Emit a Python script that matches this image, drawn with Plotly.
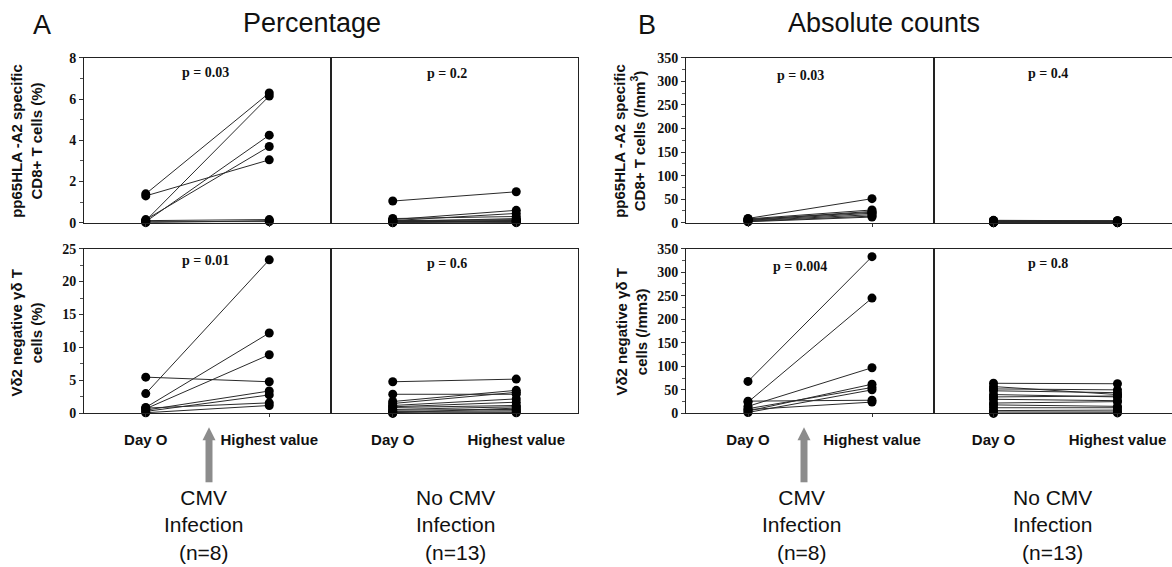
import plotly.graph_objects as go

W, H = 1172, 567

# ---------------- data ----------------
categories = ["Day O", "Highest value"]

# A: Percentage, pp65 HLA-A2 specific CD8+ T cells (%)
pct_cd8_cmv_day0 = [1.4, 1.3, 0.1, 0.05, 0.15, 0.1, 0.0, 0.05]
pct_cd8_cmv_high = [6.3, 3.05, 6.15, 4.25, 3.7, 0.15, 0.1, 0.05]
pct_cd8_nocmv_day0 = [1.05, 0.15, 0.1, 0.2, 0.05, 0.1, 0.0, 0.05, 0.1, 0.0, 0.05, 0.02, 0.08]
pct_cd8_nocmv_high = [1.5, 0.6, 0.45, 0.3, 0.2, 0.15, 0.1, 0.05, 0.0, 0.05, 0.1, 0.02, 0.08]

# A: Percentage, Vd2 negative gd T cells (%)
pct_gd_cmv_day0 = [5.5, 3.0, 0.9, 0.7, 0.5, 0.3, 0.8, 0.1]
pct_gd_cmv_high = [4.8, 23.3, 12.2, 8.9, 3.4, 2.8, 1.6, 1.2]
pct_gd_nocmv_day0 = [4.8, 2.9, 1.8, 1.5, 1.2, 1.0, 0.9, 0.6, 0.5, 0.3, 0.2, 0.1, 0.0]
pct_gd_nocmv_high = [5.2, 2.9, 3.5, 3.2, 2.2, 1.7, 1.2, 1.0, 0.6, 0.4, 0.2, 0.8, 0.1]

# B: Absolute counts, pp65 HLA-A2 specific CD8+ T cells (/mm3)
abs_cd8_cmv_day0 = [9, 8, 6, 5, 4, 3, 2, 7]
abs_cd8_cmv_high = [51, 27, 24, 20, 17, 14, 12, 22]
abs_cd8_nocmv_day0 = [5, 4, 4, 3, 3, 2, 2, 1, 1, 1, 0, 0, 0]
abs_cd8_nocmv_high = [4, 3, 4, 2, 3, 2, 1, 1, 2, 0, 1, 0, 0]

# B: Absolute counts, Vd2 negative gd T cells (/mm3)
abs_gd_cmv_day0 = [68, 24, 15, 26, 5, 10, 2, 8]
abs_gd_cmv_high = [333, 245, 97, 28, 62, 55, 50, 24]
abs_gd_nocmv_day0 = [64, 57, 52, 48, 40, 35, 30, 22, 18, 12, 6, 3, 0]
abs_gd_nocmv_high = [63, 40, 50, 44, 35, 37, 27, 25, 15, 12, 7, 3, 1]

p_values = ["p = 0.03", "p = 0.2", "p = 0.01", "p = 0.6",
            "p = 0.03", "p = 0.4", "p = 0.004", "p = 0.8"]

# ---------------- helpers ----------------
def px(x):
    return x / W

def py(y):
    # screen row -> paper fraction (compensates the capture's vertical mapping)
    return 1 - ((y - 6) / 0.975) / H

SERIF = "Liberation Serif"
SANS = "Liberation Sans"

fig = go.Figure()

panels = [
    (pct_cd8_cmv_day0, pct_cd8_cmv_high, (84, 331), (57, 222), 8, 2, 1, True, [0.5, 2.5], False, p_values[0], (205, 72)),
    (pct_cd8_nocmv_day0, pct_cd8_nocmv_high, (331, 578), (57, 222), 8, 2, 1, False, [0.5, 2.5], False, p_values[1], (447, 73)),
    (pct_gd_cmv_day0, pct_gd_cmv_high, (84, 331), (248, 413), 25, 5, 2.5, True, [0.5, 2.5], True, p_values[2], (205, 260)),
    (pct_gd_nocmv_day0, pct_gd_nocmv_high, (331, 578), (248, 413), 25, 5, 2.5, False, [0.5, 2.5], True, p_values[3], (447, 263)),
    (abs_cd8_cmv_day0, abs_cd8_cmv_high, (686, 934), (57, 222), 350, 50, 25, True, [0.5, 2.5], False, p_values[4], (800, 75)),
    (abs_cd8_nocmv_day0, abs_cd8_nocmv_high, (934, 1172), (57, 222), 350, 50, 25, False, [0.52, 2.44], False, p_values[5], (1048, 73)),
    (abs_gd_cmv_day0, abs_gd_cmv_high, (686, 934), (248, 413), 350, 50, 25, True, [0.5, 2.5], True, p_values[6], (800, 266)),
    (abs_gd_nocmv_day0, abs_gd_nocmv_high, (934, 1172), (248, 413), 350, 50, 25, False, [0.52, 2.44], True, p_values[7], (1048, 263)),
]

annotations = []
layout_axes = {}
for i, (d0, hv, xd, yd, ymax, dt, mdt, left, xr, showx, ptxt, ppos) in enumerate(panels):
    n = i + 1
    xs, ys = [], []
    for a, b in zip(d0, hv):
        xs += [1, 2, None]
        ys += [a, b, None]
    fig.add_trace(go.Scatter(
        x=xs, y=ys, mode="lines+markers",
        line=dict(color="#2a2a2a", width=1),
        marker=dict(color="black", size=9),
        cliponaxis=False, showlegend=False, hoverinfo="skip",
        xaxis=f"x{n}", yaxis=f"y{n}",
    ))
    last = (n in (6, 8))
    xkey = "xaxis" if n == 1 else f"xaxis{n}"
    ykey = "yaxis" if n == 1 else f"yaxis{n}"
    layout_axes[xkey] = dict(
        domain=[px(xd[0]), min(1.0, px(xd[1]))], anchor=f"y{n}",
        range=xr, tickvals=[1, 2], ticktext=categories,
        showticklabels=showx, ticks="outside", ticklen=3, tickcolor="#333",
        showline=True, linecolor="#222", linewidth=1, mirror=True,
        showgrid=False, zeroline=False, ticklabelstandoff=10,
        tickfont=dict(family=SANS, size=15, color="#111", weight="bold"),
        fixedrange=True,
    )
    layout_axes[ykey] = dict(
        domain=[py(yd[1]), py(yd[0])], anchor=f"x{n}",
        range=[0, ymax], dtick=dt, tick0=0,
        showticklabels=left, ticks="outside" if left else "",
        ticklen=4, tickcolor="#333",
        minor=dict(ticks="outside" if left else "", ticklen=3, dtick=mdt, tickcolor="#555"),
        showline=True, linecolor="#222", linewidth=1, mirror=not last,
        showgrid=False, zeroline=False,
        tickfont=dict(family=SERIF, size=14, color="#111", weight="bold"),
        fixedrange=True,
    )
    annotations.append(dict(
        x=px(ppos[0]), y=py(ppos[1]), xref="paper", yref="paper",
        text=ptxt, showarrow=False, xanchor="center", yanchor="middle",
        font=dict(family=SERIF, size=14, color="#111", weight="bold"),
    ))

# headings
annotations += [
    dict(x=px(42), y=py(24), text="A", font=dict(family=SANS, size=27, color="#111")),
    dict(x=px(312), y=py(22), text="Percentage", font=dict(family=SANS, size=27, color="#111")),
    dict(x=px(647), y=py(24), text="B", font=dict(family=SANS, size=27, color="#111")),
    dict(x=px(884), y=py(22), text="Absolute counts", font=dict(family=SANS, size=27, color="#111")),
]

# y axis titles
ytitle_font = dict(family=SANS, size=15, color="#111", weight="bold")
annotations += [
    dict(x=px(27), y=py(140), text="pp65HLA -A2 specific<br>CD8+ T cells (%)", textangle=-90, font=ytitle_font),
    dict(x=px(27), y=py(333), text="V\u03b42 negative \u03b3\u03b4 T<br>cells (%)", textangle=-90, font=ytitle_font),
    dict(x=px(630), y=py(140), text="pp65HLA -A2 specific<br>CD8+ T cells (/mm<sup>3</sup>)", textangle=-90, font=ytitle_font),
    dict(x=px(632), y=py(332), text="V\u03b42 negative \u03b3\u03b4 T<br>cells (/mm3)", textangle=-90, font=ytitle_font),
]

# group labels
grp_font = dict(family=SANS, size=21, color="#111")
annotations += [
    dict(x=px(203), y=py(525), text="CMV<br>Infection<br>(n=8)", font=grp_font),
    dict(x=px(455), y=py(525), text="No CMV<br>Infection<br>(n=13)", font=grp_font),
    dict(x=px(801), y=py(525), text="CMV<br>Infection<br>(n=8)", font=grp_font),
    dict(x=px(1052), y=py(525), text="No CMV<br>Infection<br>(n=13)", font=grp_font),
]
for a in annotations:
    a.setdefault("xref", "paper")
    a.setdefault("yref", "paper")
    a.setdefault("showarrow", False)
    a.setdefault("xanchor", "center")
    a.setdefault("yanchor", "middle")

# gray arrows
shapes = []
for cx in (209, 804):
    shapes.append(dict(type="rect", xref="paper", yref="paper",
                       x0=px(cx - 3.5), x1=px(cx + 3.5), y0=py(482), y1=py(439),
                       fillcolor="#8c8c8c", line=dict(width=0)))
    path = (f"M {px(cx - 6.5)} {py(440)} L {px(cx)} {py(427)} "
            f"L {px(cx + 6.5)} {py(440)} Z")
    shapes.append(dict(type="path", xref="paper", yref="paper", path=path,
                       fillcolor="#8c8c8c", line=dict(width=0)))

fig.update_layout(
    width=W, height=H,
    margin=dict(l=0, r=0, t=0, b=0),
    paper_bgcolor="white", plot_bgcolor="white",
    annotations=annotations, shapes=shapes,
    showlegend=False,
    **layout_axes,
)

fig.write_html("out.html", config={"displayModeBar": False},
               post_script="document.body.style.margin='0';document.body.style.overflow='hidden';")
